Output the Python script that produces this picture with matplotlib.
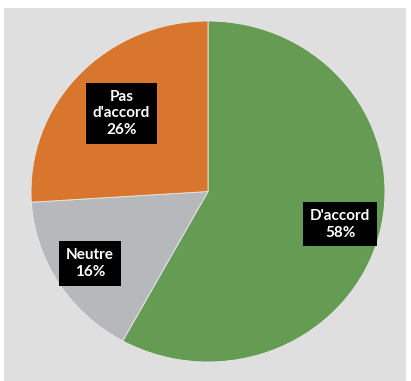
import numpy as np
import matplotlib.pyplot as plt
from matplotlib.patches import Rectangle

labels = ["D'accord", "Neutre", "Pas\nd'accord"]
shares = [58, 16, 26]
colors = ['#659b52', '#b7b8bc', '#d7762c']

# how far out each label box sits, as a fraction of the radius
label_dist = [0.77, 0.79, 0.67]

fig = plt.figure(figsize=(4.11, 3.81), dpi=100)
fig.patch.set_facecolor('white')

# grey panel behind the pie
fig.patches.append(Rectangle((4 / 411, 0), 402 / 411, 373 / 381,
                             transform=fig.transFigure, facecolor='#dfdfe0',
                             edgecolor='none', zorder=-10))

ax = fig.add_axes([31 / 411, 19 / 381, 354 / 411, 341 / 381])
ax.patch.set_visible(False)

wedges, _ = ax.pie(shares, colors=colors, startangle=90, counterclock=False,
                   wedgeprops=dict(edgecolor='#e8e8e8', linewidth=0.6))

for w, lab, v, d in zip(wedges, labels, shares, label_dist):
    mid = np.deg2rad((w.theta1 + w.theta2) / 2)
    ax.text(d * np.cos(mid), d * np.sin(mid), f'{lab}\n{v}%',
            color='white', fontsize=11, fontweight='bold',
            family=['Lato', 'DejaVu Sans'], ha='center', va='center',
            multialignment='center', linespacing=1.25,
            bbox=dict(facecolor='black', edgecolor='none', boxstyle='square,pad=0.45'))

ax.set_aspect('auto')
ax.set_xlim(-1, 1)
ax.set_ylim(-1, 1)

fig.savefig('out.png', dpi=100)
